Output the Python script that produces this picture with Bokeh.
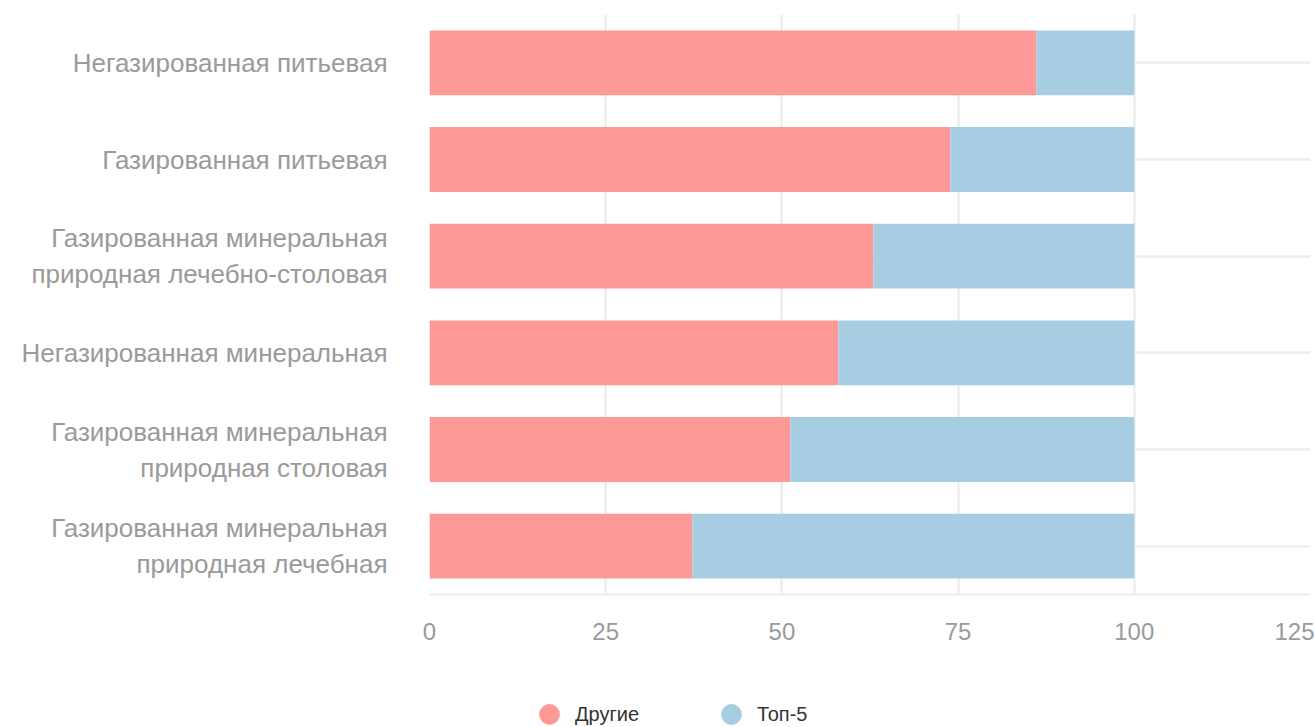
from bokeh.plotting import figure
from bokeh.layouts import column
from bokeh.models import Legend, LegendItem, ColumnDataSource, Range1d, FixedTicker
from bokeh.embed import file_html
from bokeh.resources import INLINE

categories = [
    "Газированная минеральная\nприродная лечебная",
    "Газированная минеральная\nприродная столовая",
    "Негазированная минеральная",
    "Газированная минеральная\nприродная лечебно-столовая",
    "Газированная питьевая",
    "Негазированная питьевая",
]
others = [37.3, 51.2, 58.0, 63.0, 73.9, 86.1]
top5 = [62.7, 48.8, 42.0, 37.0, 26.1, 13.9]
series_names = ["Другие", "Топ-5"]
colors = ["#fd9a98", "#a6cde2"]
x_ticks = [0, 25, 50, 75, 100, 125]

FONT = "Liberation Sans"

src = ColumnDataSource(dict(cat=categories, others=others, top5=top5))

p = figure(width=1314, height=667, y_range=categories, x_range=Range1d(0, 125),
           output_backend="svg", toolbar_location=None,
           min_border_left=429, min_border_right=4, min_border_top=14, min_border_bottom=73)
p.outline_line_color = None

p.hbar_stack(["others", "top5"], y="cat", height=0.67, color=colors, source=src,
             line_color=None)

p.xaxis.ticker = FixedTicker(ticks=x_ticks)
p.xaxis.axis_line_color = "#eeeeee"
p.xaxis.axis_line_width = 2.5
p.xaxis.major_tick_line_color = None
p.xaxis.minor_tick_line_color = None
p.xaxis.major_label_text_font = FONT
p.xaxis.major_label_text_font_size = "24px"
p.xaxis.major_label_text_color = "#9a9a9a"
p.xaxis.major_label_standoff = 22

p.yaxis.axis_line_color = None
p.yaxis.major_tick_line_color = None
p.yaxis.minor_tick_line_color = None
p.yaxis.major_label_text_font = FONT
p.yaxis.major_label_text_font_size = "26px"
p.yaxis.major_label_text_color = "#9a9a9a"
p.yaxis.major_label_standoff = 36

p.xgrid.grid_line_color = "#eeeeee"
p.xgrid.grid_line_width = 2.5
p.ygrid.grid_line_color = "#eeeeee"
p.ygrid.grid_line_width = 2.5
p.ygrid.level = "underlay"
p.xgrid.level = "underlay"

# separate strip for the legend below the chart
lg = figure(width=1314, height=60, x_range=Range1d(0, 1), y_range=Range1d(0, 1),
            output_backend="svg", toolbar_location=None,
            min_border_left=0, min_border_right=0, min_border_top=0, min_border_bottom=0)
lg.axis.visible = False
lg.grid.visible = False
lg.outline_line_color = None
nan = float("nan")
items = []
for name, col in zip(series_names, colors):
    r = lg.scatter(x=[nan], y=[nan], marker="circle", size=21, color=col, line_color=None)
    items.append(LegendItem(label=name, renderers=[r]))
legend = Legend(items=items,
                orientation="horizontal", location=(94, -13),
                label_text_font=FONT, label_text_font_size="20px",
                label_text_color="#333333", border_line_color=None,
                background_fill_alpha=0, spacing=66, glyph_width=52, glyph_height=52,
                label_standoff=-4, padding=0, margin=0)
lg.add_layout(legend, "center")

layout = column(p, lg, spacing=0)
open("out.html", "w").write(file_html(layout, INLINE))
